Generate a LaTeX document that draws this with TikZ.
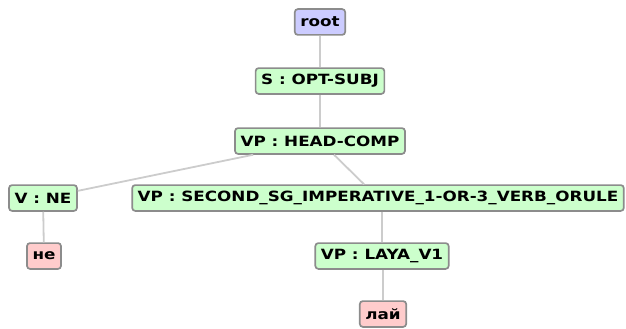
\documentclass[tikz,border=0pt]{standalone}
\usepackage{fontspec}
\setmainfont{DejaVu Sans}[FakeStretch=1.19]
\begin{document}
\begin{tikzpicture}[x=1pt,y=-1pt,
  treenode/.style={draw=black!45, line width=1.7pt, rounded corners=3pt,
    font=\fontsize{14.1}{15}\selectfont\bfseries, text=black,
    inner xsep=5.5pt, inner ysep=0pt, minimum height=25.8pt, anchor=center},
  rootnode/.style={treenode, fill={rgb,255:red,204;green,204;blue,255}},
  phrase/.style={treenode, fill={rgb,255:red,204;green,255;blue,204}},
  word/.style={treenode, fill={rgb,255:red,255;green,204;blue,204}},
  branch/.style={draw=black!20, line width=1.8pt}]
  \useasboundingbox (0,0) rectangle (626,329);
  % nodes of the parse tree
  \node[rootnode] (root) at (320,22) {root};
  \node[phrase] (s) at (320,81) {S : OPT-SUBJ};
  \node[phrase] (hc) at (320,141) {VP : HEAD-COMP};
  \node[phrase] (vne) at (43,198) {V : NE};
  \node[phrase] (sec) at (378,198) {VP : SECOND\_SG\_IMPERATIVE\_1-OR-3\_VERB\_ORULE};
  \node[word] (ne) at (44,256) {не};
  \node[phrase] (laya) at (382,256) {VP : LAYA\_V1};
  \node[word] (lay) at (383,314) {лай};
  % branches between parent and child
  \draw[branch] (root) -- (s);
  \draw[branch] (s) -- (hc);
  \draw[branch] (hc) -- (vne);
  \draw[branch] (hc) -- (sec);
  \draw[branch] (vne) -- (ne);
  \draw[branch] (sec.south -| laya) -- (laya);
  \draw[branch] (laya.south -| lay) -- (lay);
\end{tikzpicture}
\end{document}
